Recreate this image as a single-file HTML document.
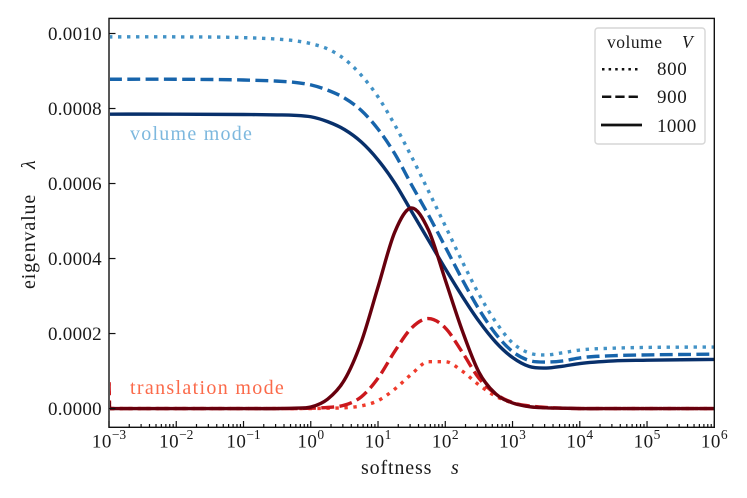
<!DOCTYPE html>
<html lang="en">
<head>
<meta charset="utf-8">
<title>Eigenvalue vs softness</title>
<style>
html,body{margin:0;padding:0;background:#fff;width:747px;height:498px;overflow:hidden}
svg{display:block}
text{font-family:"Liberation Serif",serif;fill:#1a1a1a}
</style>
</head>
<body>
<svg id="chart" width="747" height="498" viewBox="0 0 747 498" xmlns="http://www.w3.org/2000/svg">
<defs><clipPath id="plot-clip"><rect x="110" y="18.5" width="604" height="408.5"/></clipPath></defs>
<rect x="0" y="0" width="747" height="498" fill="#fff"/>
<g id="series-layer" clip-path="url(#plot-clip)"></g>
<g id="tick-layer"></g>
<rect x="109" y="18.4" width="605.3" height="408.9" fill="none" stroke="#111" stroke-width="1.4"/>
<text x="130" y="140" font-size="20" letter-spacing="1.25" style="fill:#7db8de">volume mode</text>
<text x="130" y="394" font-size="20" letter-spacing="1.33" style="fill:#fb6a4a">translation mode</text>
<text x="361" y="474" font-size="20" letter-spacing="0.85">softness</text>
<text x="451" y="474" font-size="20" font-style="italic">s</text>
<text transform="translate(35,289) rotate(-90)" font-size="20" letter-spacing="0.85">eigenvalue</text>
<text transform="translate(35,169) rotate(-90)" font-size="20" font-style="italic">λ</text>
<g>
<rect x="595" y="28" width="110" height="116" rx="3" fill="#fff" fill-opacity="0.9" stroke="#d6d6d6" stroke-width="1.4"/>
<text x="607" y="48" font-size="17.5" letter-spacing="0.5">volume</text>
<text x="682" y="48" font-size="17.5" font-style="italic">V</text>
<line x1="602" x2="641" y1="69.3" y2="69.3" stroke="#111" stroke-width="2.5" stroke-dasharray="2.5 4.1"/>
<text x="657" y="75" font-size="19" letter-spacing="0.6">800</text>
<line x1="602" x2="641" y1="96.8" y2="96.8" stroke="#111" stroke-width="2.5" stroke-dasharray="9.3 4"/>
<text x="657" y="103" font-size="19" letter-spacing="0.6">900</text>
<line x1="601" x2="642" y1="125" y2="125" stroke="#111" stroke-width="2.8"/>
<text x="657" y="132" font-size="19" letter-spacing="0.4">1000</text>
</g>
</svg>
<script>
const logSoftness = [-3,-2.99,-2,-1,-0.5,-0.25,0,0.25,0.5,0.75,1,1.25,1.5,1.75,2,2.25,2.5,2.75,3,3.25,3.5,3.75,4,4.5,5,6];
const volume800 = [0.000991,0.000991,0.000991,0.000989,0.000985,0.000981,0.000973,0.000959,0.000932,0.000889,0.000831,0.000756,0.000671,0.000580,0.000487,0.000393,0.000305,0.000231,0.000175,0.000148,0.000143,0.000149,0.000156,0.000161,0.000163,0.000164];
const volume900 = [0.000878,0.000878,0.000878,0.000876,0.000873,0.000870,0.000863,0.000849,0.000828,0.000795,0.000745,0.000679,0.000596,0.000516,0.000431,0.000345,0.000265,0.000199,0.000152,0.000128,0.000124,0.000127,0.000135,0.000141,0.000143,0.000145];
const volume1000 = [0.000785,0.000785,0.000785,0.000784,0.000783,0.000782,0.000778,0.000765,0.000744,0.000711,0.000663,0.000601,0.000525,0.000449,0.000373,0.000300,0.000233,0.000177,0.000136,0.000112,0.000108,0.000113,0.000120,0.000127,0.000129,0.000131];
const translation800 = [0.00007,0,0,0,0,0,0,0.000001,0.000002,0.000007,0.000021,0.000052,0.000092,0.000125,0.000125,0.000100,0.000063,0.000033,0.000015,0.000005,0.000002,0.000001,0,0,0,0];
const translation900 = [0.00007,0,0,0,0,0,0.000001,0.000003,0.000009,0.000031,0.000081,0.000153,0.000215,0.000240,0.000215,0.000151,0.000081,0.000039,0.000016,0.000007,0.000003,0.000001,0,0,0,0];
const translation1000 = [0.00002,0,0,0,0,0.000001,0.000004,0.000025,0.000076,0.000177,0.000324,0.000471,0.000535,0.000476,0.000343,0.000209,0.000097,0.000039,0.000015,0.000005,0.000002,0.000001,0,0,0,0];
const yTickValues = [0,0.0002,0.0004,0.0006,0.0008,0.001];
const yTickLabels = ["0.0000","0.0002","0.0004","0.0006","0.0008","0.0010"];
const xTickExponents = [-3,-2,-1,0,1,2,3,4,5,6];
const xMinorMultiples = [2,3,4,5,6,7,8,9];

const SVG_NS = 'http://www.w3.org/2000/svg';
const xScale = v => 109 + (v + 3) * (714.3 - 109) / 9;
const yScale = v => 427.3 - (v + 0.00005) * (427.3 - 18.5) / 0.00109;

function smoothPath(xs, ys) {
  const n = xs.length, d = [], m = [];
  for (let i = 0; i < n - 1; i++) d.push((ys[i + 1] - ys[i]) / (xs[i + 1] - xs[i]));
  m[0] = d[0];
  m[n - 1] = d[n - 2];
  for (let i = 1; i < n - 1; i++) {
    const h0 = xs[i] - xs[i - 1], h1 = xs[i + 1] - xs[i];
    if (d[i - 1] * d[i] <= 0 && Math.abs(d[i - 1] - d[i]) > 0.5) { m[i] = 0; continue; }
    m[i] = (h1 * d[i - 1] + h0 * d[i]) / (h0 + h1);
  }
  let p = 'M' + xs[0].toFixed(2) + ' ' + ys[0].toFixed(2);
  for (let i = 0; i < n - 1; i++) {
    const h = (xs[i + 1] - xs[i]) / 3;
    p += 'C' + (xs[i] + h).toFixed(2) + ' ' + (ys[i] + m[i] * h).toFixed(2) + ' ' +
         (xs[i + 1] - h).toFixed(2) + ' ' + (ys[i + 1] - m[i + 1] * h).toFixed(2) + ' ' +
         xs[i + 1].toFixed(2) + ' ' + ys[i + 1].toFixed(2);
  }
  return p;
}

const seriesLayer = document.getElementById('series-layer');
function drawSeries(values, color, dash, name) {
  const el = document.createElementNS(SVG_NS, 'path');
  
  
  el.setAttribute('d', smoothPath(logSoftness.map(xScale), values.map(yScale)));
  el.setAttribute('fill', 'none');
  el.setAttribute('stroke', color);
  el.setAttribute('stroke-width', '3.4');
  if (dash) el.setAttribute('stroke-dasharray', dash);
  seriesLayer.appendChild(el);
}
const DOTTED = '3.4 5.6';
const DASHED = '12.9 5.4';
drawSeries(volume800, '#4292c6', DOTTED, 'volume-mode-v800-line');
drawSeries(volume900, '#1764ab', DASHED, 'volume-mode-v900-line');
drawSeries(volume1000, '#08306b', '', 'volume-mode-v1000-line');
drawSeries(translation800, '#ef3b2c', DOTTED, 'translation-mode-v800-line');
drawSeries(translation900, '#cb181d', DASHED, 'translation-mode-v900-line');
drawSeries(translation1000, '#67000d', '', 'translation-mode-v1000-line');

const tickLayer = document.getElementById('tick-layer');
function tickLine(x1, y1, x2, y2, name) {
  const el = document.createElementNS(SVG_NS, 'line');
  
  
  el.setAttribute('x1', x1);
  el.setAttribute('y1', y1);
  el.setAttribute('x2', x2);
  el.setAttribute('y2', y2);
  el.setAttribute('stroke', '#111');
  el.setAttribute('stroke-width', '1.2');
  tickLayer.appendChild(el);
}
yTickValues.forEach((v, i) => {
  const y = yScale(v);
  tickLine(109, y, 115.5, y, 'y-major-tick');
  const t = document.createElementNS(SVG_NS, 'text');
  
  
  t.setAttribute('x', 102);
  t.setAttribute('y', y + 6.3);
  t.setAttribute('text-anchor', 'end');
  t.setAttribute('font-size', '19');
  t.setAttribute('letter-spacing', '0.3');
  t.textContent = yTickLabels[i];
  tickLayer.appendChild(t);
});
xTickExponents.forEach((e, i) => {
  const x = xScale(e);
  tickLine(x, 427.3, x, 421, 'x-major-tick');
  if (i < xTickExponents.length - 1) {
    xMinorMultiples.forEach(m => {
      const mx = xScale(e + Math.log10(m));
      tickLine(mx, 427.3, mx, 424, 'x-minor-tick');
    });
  }
  const t = document.createElementNS(SVG_NS, 'text');
  
  
  t.setAttribute('y', 447.5);
  t.setAttribute('text-anchor', 'middle');
  t.setAttribute('x', x);
  t.setAttribute('font-size', '19');
  const base = document.createElementNS(SVG_NS, 'tspan');
  base.setAttribute('letter-spacing', '0.5');
  base.textContent = '10';
  t.appendChild(base);
  const sup = document.createElementNS(SVG_NS, 'tspan');
  sup.setAttribute('dy', '-8.5');
  sup.setAttribute('font-size', '13.5');
  sup.textContent = e < 0 ? '\u2212' + Math.abs(e) : String(e);
  t.appendChild(sup);
  tickLayer.appendChild(t);
});
</script>
</body>
</html>
